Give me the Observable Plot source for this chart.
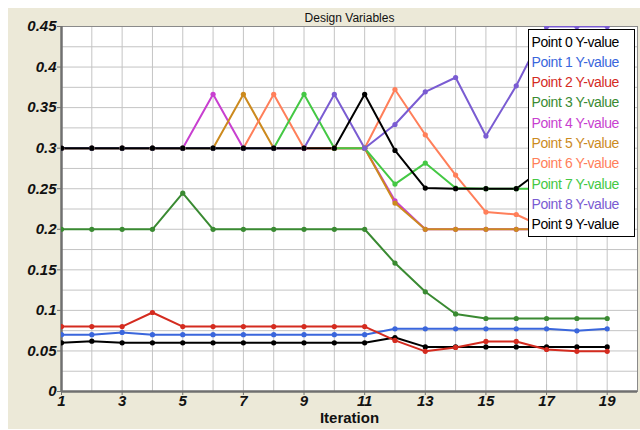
<!DOCTYPE html>
<html>
<head>
<meta charset="utf-8">
<script src="https://cdn.jsdelivr.net/npm/d3@7"></script>
<script src="https://cdn.jsdelivr.net/npm/@observablehq/plot@0.6"></script>
<style>
  html, body { margin: 0; padding: 0; background: #ffffff; }
  #wrap { position: relative; width: 640px; height: 430px; overflow: hidden; font-family: "Liberation Sans", Arial, sans-serif; }
  #panel { position: absolute; left: 8px; top: 8px; width: 632px; height: 421px; background: #ece9d8; }
  #chart { position: absolute; left: 0; top: 0; }
  #legend {
    position: absolute; left: 528px; top: 29px; width: 107px; height: 208px;
    box-sizing: border-box; border: 1px solid #000; background: #fff;
    padding: 1.5px 0 0 2.5px; font-size: 14px; letter-spacing: -0.4px; line-height: 20.3px; white-space: nowrap;
  }
</style>
</head>
<body>
<div id="wrap">
  <div id="panel"></div>
  <div id="chart"></div>
  <div id="legend"></div>
</div>
<script>
// Iteration numbers
const iterations = [1, 2, 3, 4, 5, 6, 7, 8, 9, 10, 11, 12, 13, 14, 15, 16, 17, 18, 19];

// Design variable values per iteration
const point0 = [0.06, 0.062, 0.06, 0.06, 0.06, 0.06, 0.06, 0.06, 0.06, 0.06, 0.06, 0.0665, 0.055, 0.055, 0.055, 0.055, 0.055, 0.055, 0.055];
const point1 = [0.07, 0.07, 0.0728, 0.07, 0.07, 0.07, 0.07, 0.07, 0.07, 0.07, 0.07, 0.0773, 0.0773, 0.0773, 0.0773, 0.0773, 0.0773, 0.0748, 0.0773];
const point2 = [0.08, 0.08, 0.08, 0.0974, 0.08, 0.08, 0.08, 0.08, 0.08, 0.08, 0.08, 0.063, 0.0495, 0.0543, 0.0617, 0.0617, 0.0518, 0.0495, 0.0495];
const point3 = [0.2, 0.2, 0.2, 0.2, 0.2445, 0.2, 0.2, 0.2, 0.2, 0.2, 0.2, 0.1583, 0.1229, 0.0956, 0.09, 0.09, 0.09, 0.09, 0.09];
const point4 = [0.3, 0.3, 0.3, 0.3, 0.3, 0.3665, 0.3, 0.3, 0.3, 0.3, 0.3, 0.2352, 0.2, 0.2, 0.2, 0.2, 0.2, 0.2, 0.2];
const point5 = [0.3, 0.3, 0.3, 0.3, 0.3, 0.3, 0.3665, 0.3, 0.3, 0.3, 0.3, 0.2323, 0.2, 0.2, 0.2, 0.2, 0.2, 0.2, 0.2];
const point6 = [0.3, 0.3, 0.3, 0.3, 0.3, 0.3, 0.3, 0.3665, 0.3, 0.3, 0.3, 0.3723, 0.3165, 0.2668, 0.2212, 0.2182, 0.201, 0.2, 0.2];
const point7 = [0.3, 0.3, 0.3, 0.3, 0.3, 0.3, 0.3, 0.3, 0.3665, 0.3, 0.3, 0.2557, 0.2816, 0.2508, 0.25, 0.25, 0.25, 0.25, 0.25];
const point8 = [0.3, 0.3, 0.3, 0.3, 0.3, 0.3, 0.3, 0.3, 0.3, 0.3665, 0.3, 0.3292, 0.3695, 0.3871, 0.3149, 0.3769, 0.45, 0.45, 0.45];
const point9 = [0.3, 0.3, 0.3, 0.3, 0.3, 0.3, 0.3, 0.3, 0.3, 0.3, 0.3665, 0.2972, 0.2508, 0.25, 0.25, 0.25, 0.278, 0.278, 0.278];

const seriesNames = ["Point 0 Y-value", "Point 1 Y-value", "Point 2 Y-value", "Point 3 Y-value", "Point 4 Y-value",
                     "Point 5 Y-value", "Point 6 Y-value", "Point 7 Y-value", "Point 8 Y-value", "Point 9 Y-value"];
const seriesValues = [point0, point1, point2, point3, point4, point5, point6, point7, point8, point9];
const seriesColors = ["#000000", "#3a66dc", "#d42b1f", "#3a8a32", "#c83fd0", "#cc8a1e", "#ff7f5a", "#44c844", "#7a5cd2", "#000000"];

// Axis ticks
const xTicks = [1, 3, 5, 7, 9, 11, 13, 15, 17, 19];
const yTicks = [0, 0.05, 0.1, 0.15, 0.2, 0.25, 0.3, 0.35, 0.4, 0.45];
const xGrid = d3.range(1, 21);
const yGrid = d3.range(0, 0.4501, 0.025);

// Long-format table: one row per series per iteration
const rows = seriesValues.flatMap((vals, s) =>
  vals.map((v, i) => ({ series: seriesNames[s], iteration: iterations[i], value: v })));

const chart = Plot.plot({
  width: 640,
  height: 430,
  marginLeft: 61,
  marginRight: 3,
  marginTop: 26,
  marginBottom: 39,
  style: { background: "transparent", fontFamily: "'Liberation Sans', Arial, sans-serif", overflow: "visible" },
  x: { domain: [1, 20] },
  y: { domain: [0, 0.45] },
  color: { domain: seriesNames, range: seriesColors },
  marks: [
    Plot.frame({ fill: "white" }),
    Plot.gridX(xGrid, { stroke: "#c4c4c4", strokeOpacity: 1 }),
    Plot.gridY(yGrid, { stroke: "#c4c4c4", strokeOpacity: 1 }),
    Plot.frame({ stroke: "#8a8a8a" }),
    Plot.ruleX([1], { stroke: "#707070", strokeWidth: 2.5 }),
    Plot.ruleY([0], { stroke: "#707070", strokeWidth: 2.5 }),
    Plot.axisX({
      ticks: xTicks, tickSize: 4, tickPadding: 0, stroke: "#707070",
      fontSize: 15, fontWeight: "bold", fontStyle: "italic", fill: "#111", label: null
    }),
    Plot.axisY({
      ticks: yTicks, tickSize: 4, tickPadding: 1, stroke: "#707070",
      tickFormat: d => String(+d.toFixed(3)),
      fontSize: 15, fontWeight: "bold", fontStyle: "italic", fill: "#111", label: null
    }),
    Plot.line(rows, {
      x: "iteration", y: "value", z: "series", stroke: "series",
      strokeWidth: 2, clip: true
    }),
    Plot.dot(rows, {
      x: "iteration", y: "value", fill: "series", r: 2.6, clip: true
    }),
    Plot.text(["Design Variables"], {
      frameAnchor: "top", lineAnchor: "middle", dy: -8, fontSize: 12, fill: "#111"
    }),
    Plot.text(["Iteration"], {
      frameAnchor: "bottom", lineAnchor: "middle", dy: 27, fontSize: 15, fontWeight: "bold", fill: "#111"
    })
  ]
});
document.getElementById("chart").appendChild(chart);

// Legend box with coloured entry labels
const legend = document.getElementById("legend");
seriesNames.forEach((name, i) => {
  const row = document.createElement("div");
  row.textContent = name;
  row.style.color = seriesColors[i];
  legend.appendChild(row);
});
</script>
</body>
</html>
